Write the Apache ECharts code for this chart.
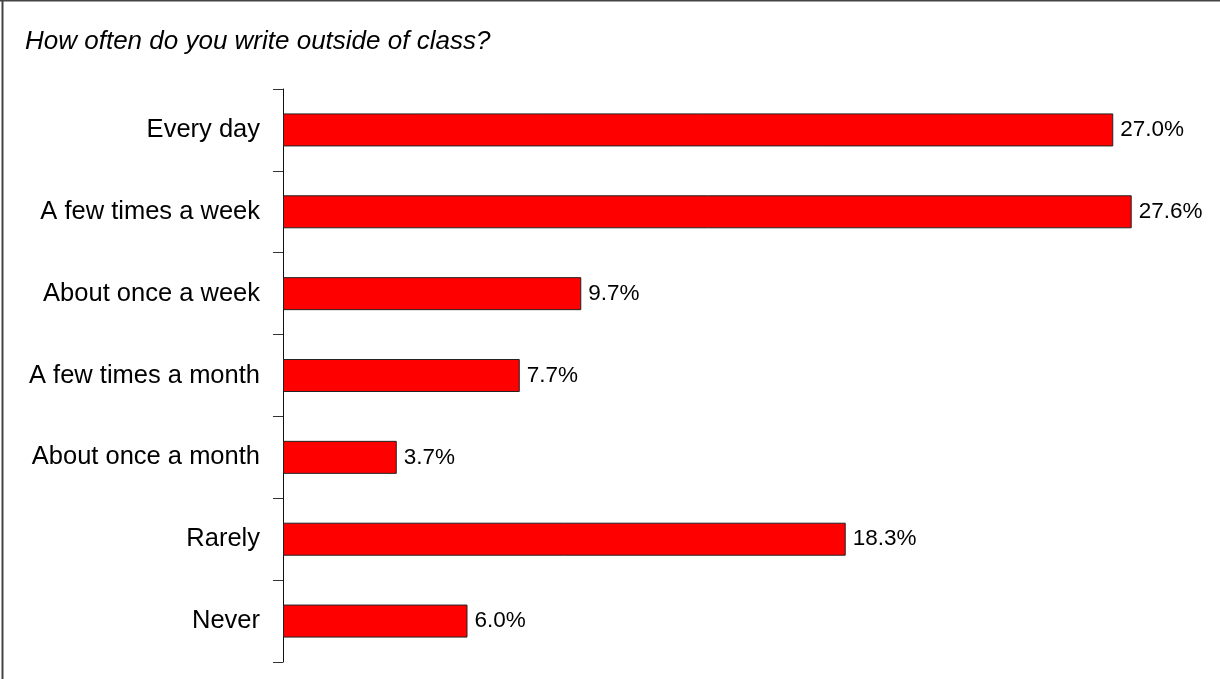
<!DOCTYPE html>
<html>
<head>
<meta charset="utf-8">
<style>
  html, body { margin: 0; padding: 0; background: #fff; }
  #chart { width: 1220px; height: 679px; }
</style>
<script src="https://cdn.jsdelivr.net/npm/echarts@6/dist/echarts.min.js"></script>
</head>
<body>
<div id="chart"></div>
<script>
// Survey responses: frequency of writing outside of class
const chartTitle = 'How often do you write outside of class?';
const categories = [
  'Every day',
  'A few times a week',
  'About once a week',
  'A few times a month',
  'About once a month',
  'Rarely',
  'Never'
];
const percentages = [27.0, 27.6, 9.7, 7.7, 3.7, 18.3, 6.0];

const FONT = '"Liberation Sans", Arial, Helvetica, sans-serif';
const chart = echarts.init(document.getElementById('chart'), null, { renderer: 'canvas' });

chart.setOption({
  backgroundColor: '#ffffff',
  animation: false,
  title: {
    text: chartTitle,
    left: 20,
    top: 24,
    textStyle: {
      fontFamily: FONT,
      fontStyle: 'italic',
      fontWeight: 'normal',
      fontSize: 26,
      color: '#000'
    }
  },
  graphic: [
    { type: 'line', shape: { x1: 2.5, y1: 0, x2: 2.5, y2: 679 }, style: { stroke: '#444', lineWidth: 2 } },
    { type: 'line', shape: { x1: 0, y1: 0.5, x2: 1220, y2: 0.5 }, style: { stroke: '#444', lineWidth: 2 } }
  ],
  grid: { left: 283, top: 89, width: 922.5, height: 573, containLabel: false },
  xAxis: {
    type: 'value',
    min: 0,
    max: 30,
    show: false
  },
  yAxis: {
    type: 'category',
    data: categories,
    inverse: true,
    axisLine: { show: true, lineStyle: { color: '#111', width: 1 } },
    axisTick: { show: true, inside: false, length: 10, lineStyle: { color: '#333', width: 1 } },
    axisLabel: {
      margin: 23,
      fontFamily: FONT,
      fontSize: 25.5,
      color: '#000'
    },
    splitLine: { show: false }
  },
  series: [{
    type: 'bar',
    data: percentages,
    barWidth: 33,
    itemStyle: { color: '#ff0000', borderColor: '#222', borderWidth: 1 },
    label: {
      show: true,
      position: 'right',
      distance: 7,
      fontFamily: FONT,
      fontSize: 22.5,
      color: '#000',
      formatter: p => p.value.toFixed(1) + '%'
    }
  }]
});
</script>
</body>
</html>
